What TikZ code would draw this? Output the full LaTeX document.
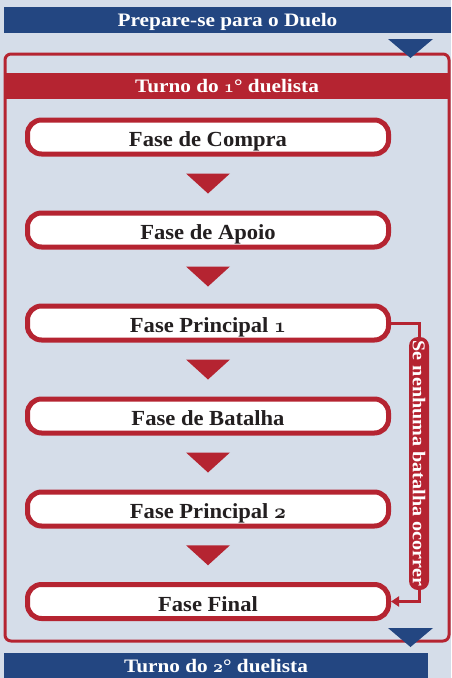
\documentclass[tikz,border=0pt]{standalone}
\usepackage{fontspec}
\setmainfont{Liberation Serif}[FakeStretch=1.05]
\newfontfamily\largo{Liberation Serif}[FakeStretch=1.12]
\usepackage{tikz}
\usetikzlibrary{calc,arrows.meta}
\definecolor{vermelho}{HTML}{B52431}
\definecolor{azul}{HTML}{234681}
\definecolor{fundo}{HTML}{D5DDE9}
\definecolor{tinta}{HTML}{231F20}
\newcommand{\letra}{\fontsize{21.5}{24}\selectfont\bfseries}
\newcommand{\letrafaixa}{\largo\fontsize{19}{22}\selectfont\bfseries}
\newcommand{\velho}[1]{{\usefont{OML}{cmm}{b}{it}#1}}

\begin{document}
\begin{tikzpicture}[x=1pt,y=-1pt,
  fase/.style={draw=vermelho, line width=5pt, fill=white, rounded corners=14pt,
    minimum width=361pt, minimum height=34pt, inner sep=0pt, text=tinta,
    text height=19pt, text depth=0pt, font=\letra},
  faixa/.style={minimum height=26pt, inner sep=0pt, text=white,
    text height=13.5pt, text depth=0pt, font=\letrafaixa},
  cond/.style={fill=vermelho, rounded corners=9pt, rotate=-90, text=white,
    minimum width=253pt, minimum height=20pt, inner sep=0pt,
    font=\largo\fontsize{18}{20}\selectfont\bfseries},
  liga/.style={draw=vermelho, line width=3pt}]
\useasboundingbox (0,0) rectangle (451,678);
\fill[fundo] (0,0) rectangle (451,678);
\begin{scope}
\clip (0,0) rectangle (451,678);
\node[faixa, fill=azul, minimum width=447pt] (prep) at (227.5,20) {Prepare-se para o Duelo};
\node[faixa, fill=azul, minimum width=424pt] (turno2) at (216,666) {Turno do \velho{2}° duelista};
\end{scope}
\draw[vermelho, line width=3pt, rounded corners=6pt] (5,54) rectangle (449,641);
\node[faixa, fill=vermelho, minimum width=444pt] (turno1) at (227,86) {Turno do \velho{1}° duelista};
% triangulos azuis
\fill[azul] (388,39) -- (433,39) -- (410.5,58) -- cycle;
\fill[azul] (388,628) -- (433,628) -- (410.5,647) -- cycle;
% fases
\foreach \nome/\txt/\y in {compra/Fase de Compra/137, apoio/Fase de Apoio/230,
  princ1/Fase Principal \velho{1}/323, batalha/Fase de Batalha/416,
  princ2/Fase Principal \velho{2}/509, final/Fase Final/601.5}
  \node[fase] (\nome) at (208,\y) {\txt};
\foreach \a/\b in {compra/apoio, apoio/princ1, princ1/batalha, batalha/princ2, princ2/final}
  \fill[vermelho] ($(\a.south)!.5!(\b.north)$) ++(-22,-10) -- ++(44,0) -- ++(-22,20) -- cycle;
% desvio
\node[cond] (cond) at (419,463.5) {Se nenhuma batalha ocorrer};
\draw[liga] (princ1.east) -| (cond.west);
\draw[liga, -{Triangle[length=8pt,width=10pt]}] (cond.east) |- (final.east);
\end{tikzpicture}
\end{document}
